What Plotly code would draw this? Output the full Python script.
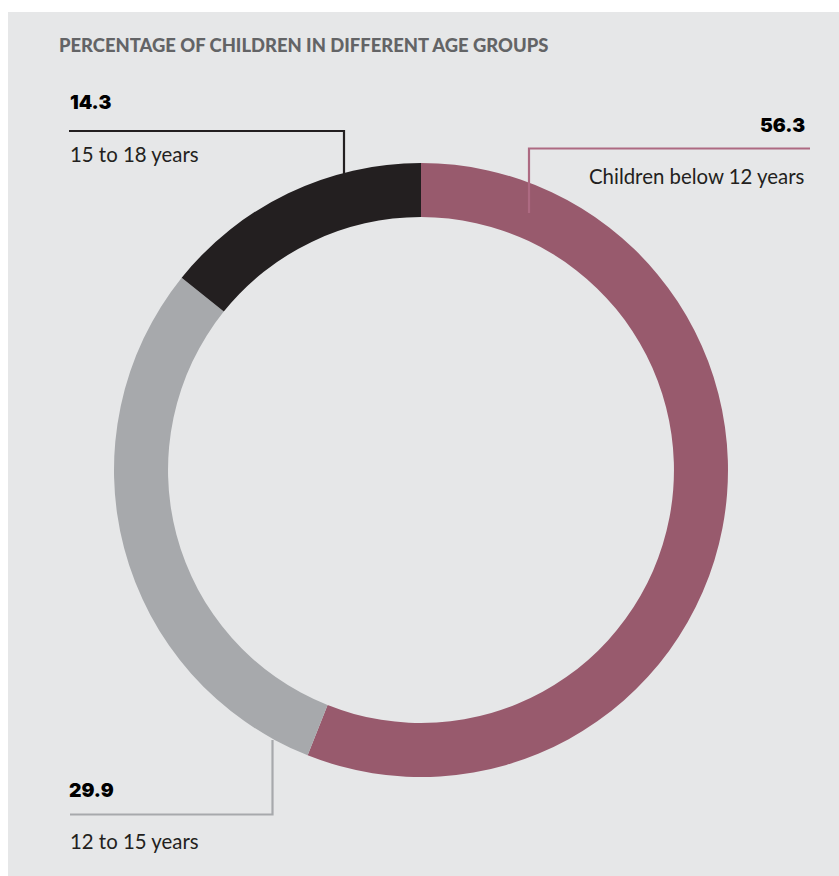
import plotly.graph_objects as go

# ---- data ----
categories = ["Children below 12 years", "12 to 15 years", "15 to 18 years"]
values = [56.3, 29.9, 14.3]
value_labels = ["56.3", "29.9", "14.3"]
colors = ["#985a6d", "#a7a9ac", "#231f20"]
title_text = "PERCENTAGE OF CHILDREN IN DIFFERENT AGE GROUPS"

W, H = 839, 876
BG = "#e6e7e8"


def px(x):
    return x / W


def py(y):
    return 1 - y / H


fig = go.Figure()
fig.add_trace(go.Pie(
    labels=categories,
    values=values,
    marker=dict(colors=colors, line=dict(width=0)),
    hole=0.824,
    sort=False,
    direction="clockwise",
    rotation=0,
    textinfo="none",
    hoverinfo="label+value",
    showlegend=False,
    domain=dict(x=[px(114), px(728)], y=[py(777), py(163)]),
))

shapes = [
    # background panel
    dict(type="rect", xref="paper", yref="paper", x0=px(8), x1=px(839), y0=py(876), y1=py(12),
         fillcolor=BG, line=dict(width=0), layer="below"),
    # 15 to 18 leader
    dict(type="path", xref="paper", yref="paper",
         path=f"M {px(69)},{py(131)} L {px(344)},{py(131)} L {px(344)},{py(174)}",
         line=dict(color="#231f20", width=2.2), layer="above"),
    # below 12 leader
    dict(type="path", xref="paper", yref="paper",
         path=f"M {px(810)},{py(148.5)} L {px(529)},{py(148.5)} L {px(529)},{py(213)}",
         line=dict(color="#ad6a82", width=2.2), layer="above"),
    # 12 to 15 leader
    dict(type="path", xref="paper", yref="paper",
         path=f"M {px(272.5)},{py(740)} L {px(272.5)},{py(814.5)} L {px(70)},{py(814.5)}",
         line=dict(color="#a7a9ac", width=2.2), layer="above"),
]

num_font = dict(family="Inter", size=19.3, color="#000000", weight=900)
lab_font = dict(family="Lato", size=20.4, color="#231f20")

annotations = [
    dict(text=title_text, x=px(57), y=py(45), xanchor="left", yanchor="middle",
         font=dict(family="Lato", size=18.4, color="#636466", weight=900)),
    # 15 to 18
    dict(text=value_labels[2], x=px(68), y=py(102), xanchor="left", yanchor="middle", font=num_font),
    dict(text=categories[2], x=px(68), y=py(154), xanchor="left", yanchor="middle", font=lab_font),
    # below 12
    dict(text=value_labels[0], x=px(807), y=py(125), xanchor="right", yanchor="middle", font=num_font),
    dict(text=categories[0], x=px(807), y=py(176), xanchor="right", yanchor="middle", font=lab_font),
    # 12 to 15
    dict(text=value_labels[1], x=px(67), y=py(790), xanchor="left", yanchor="middle", font=num_font),
    dict(text=categories[1], x=px(68), y=py(841), xanchor="left", yanchor="middle", font=lab_font),
]
for a in annotations:
    a.update(xref="paper", yref="paper", showarrow=False)

fig.update_layout(
    width=W, height=H,
    margin=dict(l=0, r=0, t=0, b=0),
    paper_bgcolor="#ffffff",
    plot_bgcolor="#ffffff",
    shapes=shapes,
    annotations=annotations,
)

fig.write_html("out.html", config={"displayModeBar": False})
